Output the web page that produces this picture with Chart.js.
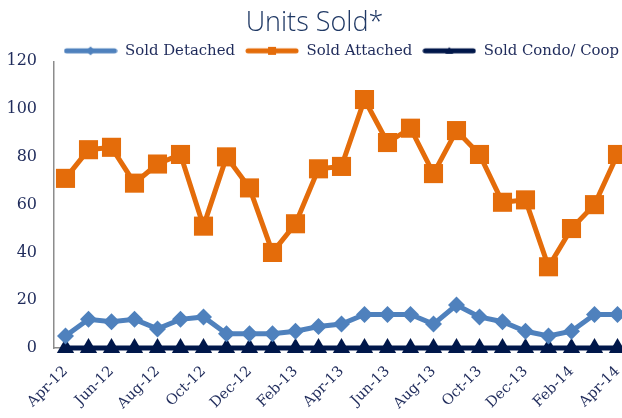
<!DOCTYPE html>
<html lang="en">
<head>
    <meta charset="UTF-8">
    <title>Units Sold</title>
    <script src="https://cdn.jsdelivr.net/npm/chart.js"></script>
    <style>
        html, body { margin: 0; padding: 0; background: #fff; overflow: hidden; }
        /* plot runs a few px past the right edge, like the original */
        .chart-box { position: relative; width: 629px; height: 418px; }
    </style>
</head>
<body>
    <div class="chart-box">
        <canvas id="unitsChart"></canvas>
    </div>

    <script>
        // months Apr-12 .. Apr-14
        const months = ['Apr-12', 'May-12', 'Jun-12', 'Jul-12', 'Aug-12', 'Sep-12', 'Oct-12', 'Nov-12', 'Dec-12',
            'Jan-13', 'Feb-13', 'Mar-13', 'Apr-13', 'May-13', 'Jun-13', 'Jul-13', 'Aug-13', 'Sep-13', 'Oct-13',
            'Nov-13', 'Dec-13', 'Jan-14', 'Feb-14', 'Mar-14', 'Apr-14'];

        const soldDetached = [5, 12, 11, 12, 8, 12, 13, 6, 6, 6, 7, 9, 10, 14, 14, 14, 10, 18, 13, 11, 7, 5, 7, 14, 14];
        const soldAttached = [71, 83, 84, 69, 77, 81, 51, 80, 67, 40, 52, 75, 76, 104, 86, 92, 73, 91, 81, 61, 62, 34, 50, 60, 81];
        const soldCondo = [0, 0, 0, 0, 0, 0, 0, 0, 0, 0, 0, 0, 0, 0, 0, 0, 0, 0, 0, 0, 0, 0, 0, 0, 0];

        const yTicks = [0, 20, 40, 60, 80, 100, 120];

        const navy = '#1F2B5B';
        const serif = "'DejaVu Serif', serif";

        // small line+marker swatch for the legend
        function legendIcon(color, marker) {
            const c = document.createElement('canvas');
            c.width = 54;
            c.height = 12;
            const ctx = c.getContext('2d');
            ctx.strokeStyle = color;
            ctx.fillStyle = color;
            ctx.lineWidth = 5;
            ctx.lineCap = 'round';
            ctx.beginPath();
            ctx.moveTo(3, 6);
            ctx.lineTo(51, 6);
            ctx.stroke();
            ctx.beginPath();
            if (marker === 'diamond') {
                ctx.moveTo(27, 1.5); ctx.lineTo(31.5, 6); ctx.lineTo(27, 10.5); ctx.lineTo(22.5, 6);
            } else if (marker === 'square') {
                ctx.rect(23, 2, 8, 8);
            } else {
                ctx.moveTo(27, 2); ctx.lineTo(31, 9); ctx.lineTo(23, 9);
            }
            ctx.closePath();
            ctx.fill();
            return c;
        }

        const icons = [
            legendIcon('#4F81BD', 'diamond'),
            legendIcon('#E46C0A', 'square'),
            legendIcon('#00174A', 'triangle')
        ];

        // legend box is a bit taller than needed, trim it so the plot starts higher
        const legendTrim = {
            id: 'legendTrim',
            beforeLayout(chart) {
                const lg = chart.legend;
                if (lg && !lg._trimmed) {
                    const fit = lg.fit.bind(lg);
                    lg.fit = function () {
                        fit();
                        this.height -= 7;
                    };
                    lg._trimmed = true;
                }
            }
        };

        window.onload = function () {
            const ctx = document.getElementById('unitsChart').getContext('2d');
            new Chart(ctx, {
                type: 'line',
                data: {
                    labels: months,
                    datasets: [{
                        label: 'Sold Detached',
                        data: soldDetached,
                        borderColor: '#4F81BD',
                        backgroundColor: '#4F81BD',
                        borderWidth: 5,
                        pointBorderWidth: 0,
                        pointStyle: 'rectRot',
                        pointRadius: 8.5,
                        pointHoverRadius: 8.5,
                        clip: false
                    }, {
                        label: 'Sold Attached',
                        data: soldAttached,
                        borderColor: '#E46C0A',
                        backgroundColor: '#E46C0A',
                        borderWidth: 5,
                        pointBorderWidth: 0,
                        pointStyle: 'rect',
                        pointRadius: 13.5,
                        pointHoverRadius: 13.5,
                        clip: false
                    }, {
                        label: 'Sold Condo/ Coop',
                        data: soldCondo,
                        borderColor: '#00174A',
                        backgroundColor: '#00174A',
                        borderWidth: 5,
                        pointBorderWidth: 0,
                        pointStyle: 'triangle',
                        pointRadius: 10,
                        pointHoverRadius: 10,
                        clip: false
                    }]
                },
                plugins: [legendTrim],
                options: {
                    responsive: true,
                    maintainAspectRatio: false,
                    animation: false,
                    layout: {
                        autoPadding: false,
                        padding: { left: 0, right: 0, top: 0, bottom: 2 }
                    },
                    plugins: {
                        title: {
                            display: true,
                            text: 'Units Sold*',
                            color: '#1F3864',
                            font: { family: "'Open Sans', sans-serif", size: 27, weight: 300 },
                            padding: { top: 7, bottom: -6 }
                        },
                        legend: {
                            align: 'end',
                            labels: {
                                usePointStyle: true,
                                pointStyleWidth: 54,
                                boxHeight: 12,
                                padding: 10,
                                color: navy,
                                font: { family: serif, size: 14.9 },
                                generateLabels(chart) {
                                    const items = Chart.defaults.plugins.legend.labels.generateLabels(chart);
                                    items.forEach((it, i) => { it.pointStyle = icons[i]; });
                                    return items;
                                }
                            }
                        },
                        tooltip: { enabled: false }
                    },
                    scales: {
                        x: {
                            offset: true,
                            grid: { display: false, drawTicks: false },
                            border: { display: true, color: '#8C8C8C', width: 1.5 },
                            afterFit(scale) {
                                scale.height = 68;
                                scale.paddingLeft = 0;
                                scale.paddingRight = 0;
                            },
                            ticks: {
                                autoSkip: false,
                                maxRotation: 45,
                                minRotation: 45,
                                padding: 15,
                                color: navy,
                                font: { family: serif, size: 14.5 },
                                callback: function (val, i) {
                                    return i % 2 === 0 ? months[i] : '';
                                }
                            }
                        },
                        y: {
                            min: yTicks[0],
                            max: yTicks[yTicks.length - 1],
                            grid: { display: false, drawTicks: false },
                            border: { display: true, color: '#8C8C8C', width: 1.5 },
                            afterFit(scale) {
                                scale.width = 54;
                            },
                            ticks: {
                                stepSize: yTicks[1] - yTicks[0],
                                padding: 17,
                                color: navy,
                                font: { family: serif, size: 16 }
                            }
                        }
                    }
                }
            });
        };
    </script>
</body>
</html>
